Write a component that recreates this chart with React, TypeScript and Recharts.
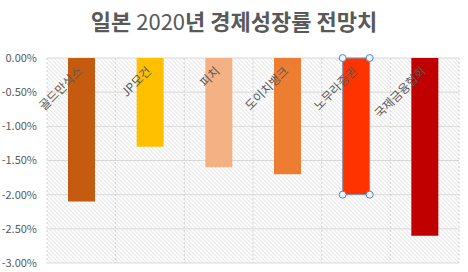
import React from 'react';
import { BarChart, Bar, XAxis, YAxis, CartesianGrid, Cell, Rectangle } from 'recharts';

const institutions = ['골드만삭스', 'JP모건', '피치', '도이치뱅크', '노무라증권', '국제금융협회'];
const growthOutlook = [-2.1, -1.3, -1.6, -1.7, -2.0, -2.6];
const barColors = ['#C55A11', '#FFC000', '#F4B183', '#ED7D31', '#FF3300', '#C00000'];
const yTicks = [0, -0.5, -1, -1.5, -2, -2.5, -3];
const selectedIndex = 4;

const data = institutions.map((name, i) => ({ name, value: growthOutlook[i] }));

const FONT = '"Noto Sans CJK KR", "Noto Sans", sans-serif';

const CategoryTick = (props: any) => {
  const { x, payload } = props;
  const ax = x + 2;
  const ay = 72;
  return (
    <text
      x={ax}
      y={ay}
      textAnchor="end"
      fontSize={12}
      fill="#595959"
      fontFamily={FONT}
      transform={`rotate(-45, ${ax}, ${ay})`}
    >
      {payload.value}
    </text>
  );
};

const BarShape = (props: any) => {
  const { x, y, width, height, fill, index } = props;
  if (index !== selectedIndex) return <Rectangle x={x} y={y} width={width} height={height} fill={fill} />;
  const top = Math.min(y, y + height);
  const bottom = Math.max(y, y + height);
  const corners = [
    [x, top],
    [x + width, top],
    [x, bottom],
    [x + width, bottom],
  ];
  return (
    <g>
      <rect x={x} y={top} width={width} height={bottom - top} fill={fill} stroke="#7f98b4" strokeWidth={1} />
      {corners.map(([cx, cy], i) => (
        <circle key={i} cx={cx} cy={cy} r={3.5} fill="#eef3f9" stroke="#5b86b5" strokeWidth={1} />
      ))}
    </g>
  );
};

export default function App() {
  return (
    <div style={{ position: 'absolute', left: 0, top: 0, width: 468, height: 272, background: '#fff' }}>
      <div
        style={{
          position: 'absolute',
          left: 0,
          top: 4,
          width: 468,
          textAlign: 'center',
          fontFamily: FONT,
          fontSize: 22,
          fontWeight: 700,
          color: '#595959',
          whiteSpace: 'nowrap',
        }}
      >
        일본 <span style={{ fontWeight: 400 }}>2020</span>년 경제성장률 전망치
      </div>
      <BarChart
        width={468}
        height={272}
        data={data}
        margin={{ top: 38, right: 9, bottom: 9, left: 0 }}
        barSize={27}
      >
        <defs>
          <pattern id="hatch" width="4" height="4" patternUnits="userSpaceOnUse">
            <rect width="4" height="4" fill="#ffffff" />
            <path d="M-1,-1 L5,5 M-1,3 L1,5 M3,-1 L5,1" stroke="#e8e8e8" strokeWidth={1.1} />
          </pattern>
        </defs>
        <CartesianGrid vertical={false} stroke="#d9d9d9" fill="url(#hatch)" fillOpacity={1} />
        <CartesianGrid
          horizontal={false}
          stroke="#d4d4d4"
          strokeDasharray="2 2"
          verticalCoordinatesGenerator={({ offset }: any) =>
            institutions.map((_, i) => offset.left + (i * offset.width) / institutions.length).concat(offset.left + offset.width)
          }
        />
        <YAxis
          type="number"
          domain={[-3, 0]}
          ticks={yTicks}
          width={47}
          axisLine={false}
          tickLine={false}
          tickSize={0}
          tickMargin={10}
          tickFormatter={(v: number) => `${v.toFixed(2)}%`}
          tick={{ fontSize: 11, fill: '#595959', fontFamily: FONT }}
        />
        <Bar dataKey="value" isAnimationActive={false} shape={<BarShape />}>
          {data.map((d, i) => (
            <Cell key={d.name} fill={barColors[i]} />
          ))}
        </Bar>
        <XAxis
          dataKey="name"
          orientation="top"
          height={20}
          axisLine={false}
          tickLine={false}
          interval={0}
          tick={<CategoryTick />}
        />
      </BarChart>
    </div>
  );
}
